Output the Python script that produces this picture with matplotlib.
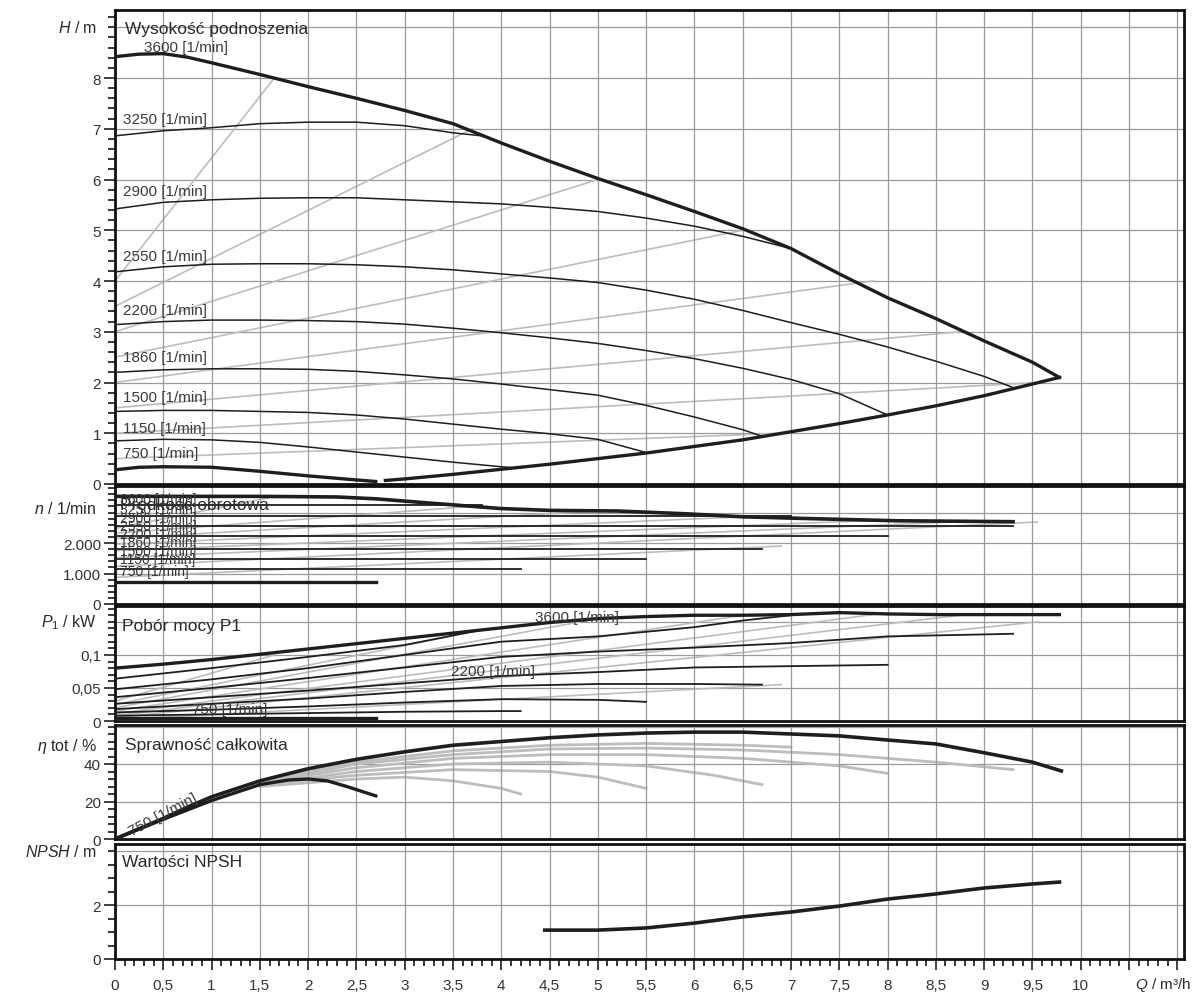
import matplotlib
matplotlib.use("Agg")
import matplotlib.pyplot as plt
from matplotlib.ticker import MultipleLocator

plt.rcParams['font.family'] = ['Liberation Sans', 'DejaVu Sans']
plt.rcParams['mathtext.fontset'] = 'custom'
plt.rcParams['mathtext.rm'] = 'Liberation Sans'
plt.rcParams['mathtext.it'] = 'Liberation Sans:italic'

# predkosci obrotowe [1/min]
speeds = [3600, 3250, 2900, 2550, 2200, 1860, 1500, 1150, 750]

# ---- wysokosc podnoszenia H(Q) ----
q_h3600 = [0, 0.25, 0.5, 0.75, 1.0, 1.5, 2.0, 2.5, 3.0, 3.5, 4.0, 4.5, 5.0, 5.5, 6.0, 6.5, 7.0, 7.5, 8.0, 8.5, 9.0, 9.5, 9.78]
h_h3600 = [8.42, 8.47, 8.48, 8.41, 8.3, 8.07, 7.83, 7.6, 7.36, 7.1, 6.72, 6.36, 6.02, 5.7, 5.37, 5.03, 4.64, 4.14, 3.67, 3.26, 2.82, 2.4, 2.1]
q_h3250 = [0, 0.5, 1.0, 1.5, 2.0, 2.5, 3.0, 3.5, 3.8]
h_h3250 = [6.86, 6.96, 7.02, 7.1, 7.13, 7.13, 7.06, 6.92, 6.86]
q_h2900 = [0, 0.5, 1.0, 1.5, 2.0, 2.5, 3.0, 3.5, 4.0, 4.5, 5.0, 5.5, 6.0, 6.5, 7.0]
h_h2900 = [5.42, 5.55, 5.6, 5.63, 5.64, 5.64, 5.6, 5.56, 5.52, 5.45, 5.37, 5.24, 5.08, 4.88, 4.64]
q_h2550 = [0, 0.5, 1.0, 1.5, 2.0, 2.5, 3.0, 3.5, 4.0, 4.5, 5.0, 5.5, 6.0, 6.5, 7.0, 7.5, 8.0, 8.5, 9.0, 9.3]
h_h2550 = [4.18, 4.28, 4.33, 4.34, 4.34, 4.32, 4.28, 4.22, 4.14, 4.06, 3.97, 3.82, 3.64, 3.42, 3.18, 2.95, 2.7, 2.42, 2.12, 1.9]
q_h2200 = [0, 0.5, 1.0, 1.5, 2.0, 2.5, 3.0, 3.5, 4.0, 4.5, 5.0, 5.5, 6.0, 6.5, 7.0, 7.5, 8.0]
h_h2200 = [3.14, 3.2, 3.23, 3.23, 3.22, 3.2, 3.15, 3.07, 2.98, 2.88, 2.77, 2.63, 2.47, 2.28, 2.06, 1.78, 1.36]
q_h1860 = [0, 0.5, 1.0, 1.5, 2.0, 2.5, 3.0, 3.5, 4.0, 4.5, 5.0, 5.5, 6.0, 6.5, 6.7]
h_h1860 = [2.2, 2.25, 2.27, 2.27, 2.26, 2.22, 2.15, 2.07, 1.97, 1.86, 1.75, 1.55, 1.32, 1.07, 0.94]
q_h1500 = [0, 0.5, 1.0, 1.5, 2.0, 2.5, 3.0, 3.5, 4.0, 4.5, 5.0, 5.5]
h_h1500 = [1.43, 1.45, 1.45, 1.43, 1.41, 1.36, 1.28, 1.18, 1.08, 0.99, 0.88, 0.62]
q_h1150 = [0, 0.5, 1.0, 1.5, 2.0, 2.5, 3.0, 3.5, 4.0, 4.2]
h_h1150 = [0.85, 0.88, 0.87, 0.82, 0.73, 0.63, 0.53, 0.43, 0.34, 0.31]
q_h750 = [0, 0.25, 0.5, 1.0, 1.5, 2.0, 2.5, 2.7]
h_h750 = [0.28, 0.33, 0.34, 0.33, 0.25, 0.16, 0.08, 0.05]
# dolna granica pola pracy
q_hmin = [2.8, 3.0, 3.5, 4.0, 4.5, 5.0, 5.5, 6.0, 6.5, 7.0, 7.5, 8.0, 8.5, 9.0, 9.5, 9.78]
h_hmin = [0.07, 0.1, 0.19, 0.29, 0.39, 0.5, 0.61, 0.74, 0.87, 1.03, 1.19, 1.36, 1.54, 1.74, 1.97, 2.1]
# linie regulacji dp-v (szare)
dpv_h_start = [4.0, 3.5, 3.0, 2.5, 2.0, 1.5, 1.0, 0.5]
dpv_q_end = [1.65, 3.7, 5.0, 6.5, 7.85, 8.75, 9.55, 6.9]
dpv_h_end = [8.0, 7.0, 6.0, 5.0, 4.0, 3.0, 2.0, 1.0]

# ---- predkosc obrotowa n(Q) ----
q_n3600 = [0, 1.5, 2.3, 2.7, 3.3, 4.0, 4.5, 5.2, 5.9, 6.5, 7.2, 8.1, 9.3]
n_n3600 = [3530, 3530, 3510, 3450, 3300, 3130, 3070, 3050, 2960, 2860, 2800, 2730, 2700]
n_q_end = [None, 3.8, 7.0, 9.3, 8.0, 6.7, 5.5, 4.2, 2.7]
n_level = [None, 3250, 2900, 2560, 2230, 1820, 1480, 1150, 720]
dpv_n_start = [2480, 2320, 2150, 1960, 1750, 1520, 1240, 875]
dpv_n_end = [3520, 3200, 3050, 2860, 2740, 2700, 2690, 1900]

# ---- pobor mocy P1(Q) ----
q_p3600 = [0, 0.5, 1, 1.5, 2, 2.5, 3, 3.5, 4, 4.5, 5, 5.5, 6, 6.5, 7, 7.5, 8, 8.5, 9, 9.5, 9.78]
p_p3600 = [0.080, 0.086, 0.093, 0.101, 0.109, 0.117, 0.125, 0.133, 0.141, 0.149, 0.155, 0.158, 0.160, 0.160, 0.161, 0.164, 0.162, 0.161, 0.161, 0.161, 0.161]
q_p3250 = [0, 1, 2, 3, 3.8]
p_p3250 = [0.064, 0.080, 0.097, 0.115, 0.138]
q_p2900 = [0, 1, 2, 3, 4, 5, 6, 6.5, 7.0]
p_p2900 = [0.048, 0.063, 0.080, 0.100, 0.120, 0.128, 0.142, 0.152, 0.160]
q_p2550 = [0, 1, 2, 3, 4, 5, 6, 7, 8, 9, 9.3]
p_p2550 = [0.036, 0.050, 0.065, 0.081, 0.097, 0.105, 0.111, 0.118, 0.128, 0.131, 0.132]
q_p2200 = [0, 1, 2, 3, 4, 5, 6, 7, 8]
p_p2200 = [0.026, 0.036, 0.046, 0.057, 0.068, 0.074, 0.081, 0.083, 0.085]
q_p1860 = [0, 1, 2, 3, 4, 5, 6, 6.7]
p_p1860 = [0.018, 0.026, 0.034, 0.044, 0.053, 0.056, 0.056, 0.055]
q_p1500 = [0, 1, 2, 3, 4, 5, 5.5]
p_p1500 = [0.013, 0.017, 0.022, 0.028, 0.033, 0.032, 0.029]
q_p1150 = [0, 1, 2, 3, 4, 4.2]
p_p1150 = [0.008, 0.010, 0.012, 0.014, 0.015, 0.015]
q_p750 = [0, 1, 2, 2.7]
p_p750 = [0.004, 0.004, 0.004, 0.004]
dpv_p_start = [0.030, 0.025, 0.020, 0.015, 0.011, 0.008, 0.005, 0.002]
dpv_p_end = [0.100, 0.135, 0.155, 0.160, 0.161, 0.160, 0.150, 0.055]

# ---- sprawnosc calkowita eta(Q) ----
q_e3600 = [0, 0.25, 0.5, 0.75, 1, 1.5, 2, 2.5, 3, 3.5, 4, 4.5, 5, 5.5, 6, 6.5, 7, 7.5, 8, 8.5, 9, 9.5, 9.8]
e_e3600 = [0, 5.5, 11, 17, 22.5, 31, 37.5, 42.5, 46.5, 50, 52, 54, 55.5, 56.5, 57, 57, 56, 55, 52.8, 50.7, 46, 41, 36.3]
q_e750 = [0, 0.5, 1.0, 1.5, 1.8, 2.0, 2.2, 2.4, 2.7]
e_e750 = [0, 10.5, 20.5, 29, 31.5, 32, 31, 28, 23]
q_e2900 = [1.5, 2.5, 3.5, 4.5, 5.5, 6.5, 7.0]
e_e2900 = [31, 41, 47, 50, 51, 50, 49]
q_e2550 = [1.5, 2.5, 3.5, 4.5, 5.5, 6.5, 7.5, 8.5, 9.3]
e_e2550 = [30, 40, 45, 48, 48.5, 47.5, 45, 41, 37]
q_e2200 = [1.5, 2.5, 3.5, 4.5, 5.5, 6.5, 7.5, 8.0]
e_e2200 = [30, 38, 43, 45, 45, 43, 39, 35]
q_e1860 = [1.5, 2.5, 3.5, 4.5, 5.5, 6.2, 6.7]
e_e1860 = [29, 36, 40, 41, 39, 34, 29]
q_e1500 = [1.5, 2.5, 3.5, 4.5, 5.0, 5.5]
e_e1500 = [29, 34, 37, 36, 33, 27]
q_e1150 = [1.5, 2.5, 3.0, 3.5, 4.0, 4.2]
e_e1150 = [28, 32, 33, 31, 27, 24]

# ---- NPSH ----
q_npsh = [4.45, 5.0, 5.5, 6.0, 6.5, 7.0, 7.5, 8.0, 8.5, 9.0, 9.5, 9.78]
v_npsh = [1.07, 1.07, 1.15, 1.33, 1.56, 1.74, 1.96, 2.22, 2.41, 2.63, 2.78, 2.85]

DARK = '#1e1e1e'
GRAY = '#bdbdbd'
GRID = '#9a9a9a'
TXT = '#2a2a2a'
W_PX, H_PX = 1195, 1003
X0, X1 = 115, 1184
XMAX = 11.07

fig = plt.figure(figsize=(W_PX / 100, H_PX / 100), dpi=100)


def make_ax(top, bottom, ymax, major, minor, ticks, labels, unit, unit_y):
    ax = fig.add_axes([X0 / W_PX, 1 - bottom / H_PX, (X1 - X0) / W_PX, (bottom - top) / H_PX])
    ax.set_xlim(0, XMAX)
    ax.set_ylim(0, ymax)
    ax.xaxis.set_major_locator(MultipleLocator(0.5))
    ax.xaxis.set_minor_locator(MultipleLocator(0.1))
    ax.set_yticks(ticks)
    ax.set_yticklabels(labels)
    ax.yaxis.set_minor_locator(MultipleLocator(minor))
    ax.grid(True, which='major', axis='x', color=GRID, lw=0.9)
    for g in major:
        ax.axhline(g, color=GRID, lw=0.9, zorder=0)
    ax.tick_params(axis='y', which='major', length=8, width=1.3, labelsize=11, colors='#333333', pad=2)
    ax.tick_params(axis='y', which='minor', length=5, width=1.1)
    ax.tick_params(axis='x', which='both', bottom=False, labelbottom=False)
    for s in ax.spines.values():
        s.set_linewidth(2.0)
        s.set_color('#111111')
    ax.text(-0.017, unit_y, unit, transform=ax.get_yaxis_transform(), ha='right', va='center',
            fontsize=11.5, color=TXT)
    return ax


axH = make_ax(11, 485, 9.34, [1, 2, 3, 4, 5, 6, 7, 8, 9], 0.2,
              [0, 1, 2, 3, 4, 5, 6, 7, 8], ['0', '1', '2', '3', '4', '5', '6', '7', '8'],
              r'$\mathit{H}$ / m', 9.0)
axN = make_ax(487, 605, 3870, [1000, 2000, 3000], 200,
              [0, 1000, 2000], ['0', '1.000', '2.000'], r'$\mathit{n}$ / 1/min', 3150)
axP = make_ax(607, 722, 0.174, [0.05, 0.1, 0.15], 0.01,
              [0, 0.05, 0.1], ['0', '0,05', '0,1'], r'$\mathit{P}_1$ / kW', 0.15)
axE = make_ax(726, 840, 60.8, [20, 40, 60], 4,
              [0, 20, 40], ['0', '20', '40'], r'$\mathit{\eta}$ tot / %', 50)
axS = make_ax(845, 960, 4.26, [2, 4], 0.5,
              [0, 2], ['0', '2'], r'$\mathit{NPSH}$ / m', 4.0)

# os Q na dolnym panelu
axS.tick_params(axis='x', which='major', bottom=True, labelbottom=True, length=8, width=1.3,
                labelsize=11, colors='#333333', pad=6)
axS.tick_params(axis='x', which='minor', bottom=True, length=5, width=1.1)
xt = [i * 0.5 for i in range(23)]
axS.set_xticks(xt)
axS.set_xticklabels([('%g' % v).replace('.', ',') if v <= 10 else '' for v in xt])
fig.text(1191 / W_PX, 1 - 985 / H_PX, r'$\mathit{Q}$ / m³/h', ha='right', va='center',
         fontsize=11, color=TXT)

# ---------- panel H ----------
for h0, qe, he in zip(dpv_h_start, dpv_q_end, dpv_h_end):
    axH.plot([0, qe], [h0, he], color=GRAY, lw=1.2, zorder=1)
h_curves = [(q_h3600, h_h3600), (q_h3250, h_h3250), (q_h2900, h_h2900), (q_h2550, h_h2550),
            (q_h2200, h_h2200), (q_h1860, h_h1860), (q_h1500, h_h1500), (q_h1150, h_h1150),
            (q_h750, h_h750)]
for sp, (q, h) in zip(speeds, h_curves):
    thick = sp in (3600, 750)
    axH.plot(q, h, color=DARK, lw=2.4 if thick else 1.1, zorder=3)
axH.plot(q_hmin, h_hmin, color=DARK, lw=2.4, zorder=3)
h_label_y = [8.62, 7.2, 5.78, 4.5, 3.42, 2.5, 1.72, 1.1, 0.62]
for sp, y in zip(speeds, h_label_y):
    axH.text(0.08 if sp != 3600 else 0.3, y, '%d [1/min]' % sp, fontsize=11, color='#3a3a3a',
             va='center', zorder=4)
axH.text(0.1, 8.97, 'Wysokość podnoszenia', fontsize=12.5, color=TXT, va='center', zorder=5)

# ---------- panel n ----------
for n0, ne, qe in zip(dpv_n_start, dpv_n_end, dpv_q_end):
    axN.plot([0, qe], [n0, ne], color=GRAY, lw=1.2, zorder=1)
axN.plot(q_n3600, n_n3600, color=DARK, lw=2.6, zorder=3)
for sp, qe, lev in zip(speeds[1:], n_q_end[1:], n_level[1:]):
    axN.plot([0, qe], [lev, lev], color=DARK, lw=2.4 if sp == 750 else 1.3, zorder=3)
n_label_y = [3440, 3110, 2820, 2560, 2290, 2030, 1740, 1480, 1080]
for sp, y in zip(speeds, n_label_y):
    axN.text(0.05, y, '%d [1/min]' % sp, fontsize=10, color='#3a3a3a', va='center', zorder=4)
axN.text(0.05, 3250, 'Prędkość obrotowa', fontsize=12.5, color=TXT, va='center', zorder=5)

# ---------- panel P1 ----------
for p0, pe, qe in zip(dpv_p_start, dpv_p_end, dpv_q_end):
    axP.plot([0, qe], [p0, pe], color=GRAY, lw=1.2, zorder=1)
p_curves = [(q_p3600, p_p3600), (q_p3250, p_p3250), (q_p2900, p_p2900), (q_p2550, p_p2550),
            (q_p2200, p_p2200), (q_p1860, p_p1860), (q_p1500, p_p1500), (q_p1150, p_p1150),
            (q_p750, p_p750)]
for sp, (q, p) in zip(speeds, p_curves):
    axP.plot(q, p, color=DARK, lw=2.4 if sp in (3600, 750) else 1.3, zorder=3)
axP.text(0.07, 0.145, 'Pobór mocy P1', fontsize=12.5, color=TXT, va='center', zorder=5)
axP.text(4.35, 0.158, '3600 [1/min]', fontsize=11, color='#3a3a3a', va='center', zorder=4)
axP.text(3.48, 0.076, '2200 [1/min]', fontsize=11, color='#3a3a3a', va='center', zorder=4)
axP.text(0.8, 0.018, '750 [1/min]', fontsize=11, color='#3a3a3a', va='center', zorder=4)

# ---------- panel eta ----------
e_curves = [(q_e2900, e_e2900), (q_e2550, e_e2550), (q_e2200, e_e2200), (q_e1860, e_e1860),
            (q_e1500, e_e1500), (q_e1150, e_e1150)]
for q, e in e_curves:
    axE.plot(q, e, color=GRAY, lw=2.0, zorder=1)
axE.plot(q_e3600, e_e3600, color=DARK, lw=2.6, zorder=3)
axE.plot(q_e750, e_e750, color=DARK, lw=2.4, zorder=3)
axE.text(0.1, 50.5, 'Sprawność całkowita', fontsize=12.5, color=TXT, va='center', zorder=5)
axE.text(0.12, 13, '750 [1/min]', fontsize=11, color='#3a3a3a', rotation=28, va='center', zorder=4)

# ---------- panel NPSH ----------
axS.plot(q_npsh, v_npsh, color=DARK, lw=2.6, zorder=3)
axS.text(0.07, 3.63, 'Wartości NPSH', fontsize=12.5, color=TXT, va='center', zorder=5)

fig.savefig('out.png', dpi=100)
